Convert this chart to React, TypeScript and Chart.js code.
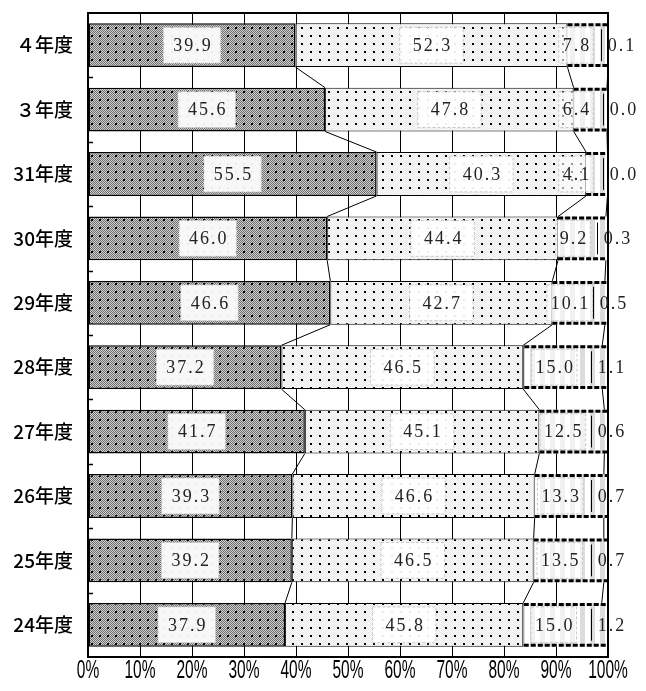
import React, { useEffect, useRef } from "react";
import { Chart, registerables } from "chart.js";

Chart.register(...registerables);

const categories = ["４年度", "３年度", "31年度", "30年度", "29年度", "28年度", "27年度", "26年度", "25年度", "24年度"];
const seriesA = [39.9, 45.6, 55.5, 46.0, 46.6, 37.2, 41.7, 39.3, 39.2, 37.9];
const seriesB = [52.3, 47.8, 40.3, 44.4, 42.7, 46.5, 45.1, 46.6, 46.5, 45.8];
const seriesE = [0, 0, 0, 0, 0, 0.2, 0, 0, 0, 0.1];
const seriesC = [7.8, 6.4, 4.1, 9.2, 10.1, 15.0, 12.5, 13.3, 13.5, 15.0];
const seriesD = [0.1, 0.0, 0.0, 0.3, 0.5, 1.1, 0.6, 0.7, 0.7, 1.2];
const xTickValues = [0, 10, 20, 30, 40, 50, 60, 70, 80, 90, 100];
const xTickLabels = ["0%", "10%", "20%", "30%", "40%", "50%", "60%", "70%", "80%", "90%", "100%"];

function makePattern(w: number, h: number, draw: (g: CanvasRenderingContext2D) => void) {
  const c = document.createElement("canvas");
  c.width = w;
  c.height = h;
  const g = c.getContext("2d")!;
  draw(g);
  return g.createPattern(c, "repeat")!;
}

export default function App() {
  const ref = useRef<HTMLCanvasElement | null>(null);

  useEffect(() => {
    document.body.style.margin = "0";
    const canvas = ref.current!;

    const patA = makePattern(8, 8, (g) => {
      for (let y = 0; y < 8; y++)
        for (let x = 0; x < 8; x++) {
          g.fillStyle = (x + y) % 2 === 0 ? "#6e6e6e" : "#cfcfcf";
          g.fillRect(x, y, 1, 1);
        }
      g.fillStyle = "#000";
      g.fillRect(3, 3, 2, 2);
    });
    const patB = makePattern(9, 8, (g) => {
      for (let y = 0; y < 8; y++)
        for (let x = 0; x < 9; x++) {
          g.fillStyle = (x + y) % 2 === 0 ? "#e6e6e6" : "#ffffff";
          g.fillRect(x, y, 1, 1);
        }
      g.fillStyle = "#000";
      g.fillRect(4, 3, 2, 2);
    });
    const patC = makePattern(10, 10, (g) => {
      g.fillStyle = "#ffffff";
      g.fillRect(0, 0, 10, 10);
      g.fillStyle = "#dcdcdc";
      g.fillRect(0, 0, 5, 10);
    });

    const labelFont = '"Liberation Serif", "DejaVu Serif", serif';

    const overlay = {
      id: "overlay",
      afterDatasetsDraw(chart: any) {
        const ctx: CanvasRenderingContext2D = chart.ctx;
        const area = chart.chartArea;
        const xs = chart.scales.x;
        const mA = chart.getDatasetMeta(0).data;
        const mB = chart.getDatasetMeta(1).data;
        const mC = chart.getDatasetMeta(3).data;
        const n = categories.length;
        ctx.save();

        // dashed bands on striped segments
        ctx.strokeStyle = "#000";
        ctx.lineWidth = 3;
        ctx.setLineDash([5, 2]);
        for (let i = 0; i < n; i++) {
          const el = mC[i];
          const h = el.height;
          const x0 = Math.min(el.base, el.x);
          const top = el.y - h / 2 + 1.5;
          const bot = el.y + h / 2 - 1.5;
          ctx.beginPath();
          ctx.moveTo(x0, top);
          ctx.lineTo(area.right, top);
          ctx.moveTo(x0, bot);
          ctx.lineTo(area.right, bot);
          ctx.stroke();
        }
        ctx.setLineDash([]);

        // connecting lines
        const cum1 = seriesA.map((v) => v);
        const cum2 = seriesA.map((v, i) => v + seriesB[i]);
        const cum3 = seriesA.map((v, i) => v + seriesB[i] + seriesE[i] + seriesC[i]);
        ctx.lineWidth = 1;
        ctx.strokeStyle = "#000";
        for (const cum of [cum1, cum2, cum3]) {
          for (let i = 0; i < n - 1; i++) {
            const a = mA[i];
            const b = mA[i + 1];
            ctx.beginPath();
            ctx.moveTo(xs.getPixelForValue(Math.min(cum[i], 100)), a.y + a.height / 2);
            ctx.lineTo(xs.getPixelForValue(Math.min(cum[i + 1], 100)), b.y - b.height / 2);
            ctx.stroke();
          }
        }

        // inner tick marks on the y axis
        ctx.lineWidth = 1.5;
        for (let i = 0; i < n - 1; i++) {
          const a = mA[i];
          const b = mA[i + 1];
          const y = Math.round(((a.y + a.height / 2) + (b.y - b.height / 2)) / 2) + 0.5;
          ctx.beginPath();
          ctx.moveTo(area.left, y);
          ctx.lineTo(area.left + 5, y);
          ctx.stroke();
        }

        // frame
        ctx.lineWidth = 2;
        ctx.strokeRect(area.left, area.top, area.right - area.left, area.bottom - area.top);

        // x tick labels (narrow)
        ctx.fillStyle = "#000";
        ctx.font = '25px "Liberation Sans", Arial, sans-serif';
        ctx.textAlign = "center";
        ctx.textBaseline = "top";
        xTickValues.forEach((v, k) => {
          const px = xs.getPixelForValue(v);
          ctx.save();
          ctx.translate(px, area.bottom + 2);
          ctx.scale(0.62, 1);
          ctx.fillText(xTickLabels[k], 0, 0);
          ctx.restore();
        });

        // data labels
        ctx.font = `18px ${labelFont}`;
        (ctx as any).letterSpacing = "2px";
        ctx.textAlign = "center";
        ctx.textBaseline = "middle";
        const drawLabel = (cx: number, cy: number, h: number, text: string, pad: number, alpha: number) => {
          const tw = ctx.measureText(text).width;
          const bw = tw + pad * 2;
          const bh = h - 8;
          ctx.fillStyle = `rgba(255,255,255,${alpha})`;
          ctx.fillRect(cx - bw / 2, cy - bh / 2, bw, bh);
          ctx.strokeStyle = "#c8c8c8";
          ctx.lineWidth = 1;
          ctx.setLineDash([3, 2]);
          ctx.strokeRect(cx - bw / 2, cy - bh / 2, bw, bh);
          ctx.setLineDash([]);
          ctx.fillStyle = "#222";
          ctx.fillText(text, cx + 1, cy + 1);
        };
        for (let i = 0; i < n; i++) {
          const a = mA[i];
          const b = mB[i];
          const c = mC[i];
          drawLabel((a.base + a.x) / 2, a.y, a.height, seriesA[i].toFixed(1), 9, 0.92);
          drawLabel((b.base + b.x) / 2, b.y, b.height, seriesB[i].toFixed(1), 12, 0.92);
          const cc = Math.min((c.base + Math.min(c.x, area.right)) / 2 - 9, area.right - 32);
          drawLabel(cc, c.y, c.height, seriesC[i].toFixed(1), 3, 0.6);
          const dc = area.right + 15 - 20 * Math.min(seriesD[i], 0.6);
          ctx.strokeStyle = "#000";
          ctx.lineWidth = 1;
          ctx.beginPath();
          ctx.moveTo(Math.round(dc - 20) + 0.5, c.y - c.height / 2 + 6);
          ctx.lineTo(Math.round(dc - 20) + 0.5, c.y + c.height / 2 - 6);
          ctx.stroke();
          ctx.fillStyle = "#222";
          ctx.fillText(seriesD[i].toFixed(1), dc + 1, c.y + 1);
        }
        (ctx as any).letterSpacing = "0px";
        ctx.restore();
      },
    };

    const chart = new Chart(canvas, {
      type: "bar",
      data: {
        labels: categories,
        datasets: [
          { label: "A", data: seriesA, backgroundColor: patA, borderColor: "#000", borderWidth: 1.5, borderSkipped: false },
          { label: "B", data: seriesB, backgroundColor: patB, borderColor: "#000", borderWidth: 1, borderSkipped: false },
          {
            label: "E",
            data: seriesE,
            backgroundColor: "#7a7a7a",
            borderColor: "#000",
            borderWidth: (c: any) => (seriesE[c.dataIndex] > 0 ? 1.5 : 0),
            borderSkipped: false,
          },
          { label: "C", data: seriesC, backgroundColor: patC, borderColor: "#000", borderWidth: 0, borderSkipped: false },
          { label: "D", data: seriesD, backgroundColor: patC, borderColor: "#000", borderWidth: 0, borderSkipped: false },
        ],
      },
      options: {
        indexAxis: "y",
        responsive: false,
        animation: false,
        events: [],
        layout: { padding: { top: 13, right: 38, left: 0, bottom: 0 } },
        datasets: { bar: { categoryPercentage: 0.68, barPercentage: 1 } },
        plugins: { legend: { display: false }, tooltip: { enabled: false } },
        scales: {
          x: {
            stacked: true,
            min: 0,
            max: 100,
            ticks: {
              display: false,
              stepSize: 10,
              autoSkip: false,
              maxRotation: 0,
              minRotation: 0,
            },
            grid: { color: "#000", lineWidth: 1, drawTicks: false },
            border: { display: false },
            afterFit: (s: any) => {
              s.height = 34;
              s.paddingLeft = 0;
              s.paddingRight = 0;
            },
          },
          y: {
            stacked: true,
            ticks: {
              padding: 15,
              color: "#000",
              font: { size: 19, weight: 500, family: '"Noto Sans CJK JP", "Noto Sans", sans-serif' },
            },
            grid: { display: false, drawTicks: false },
            border: { display: false },
            afterFit: (s: any) => {
              s.width = 88;
              s.paddingTop = 0;
              s.paddingBottom = 0;
            },
          },
        },
      } as any,
      plugins: [overlay],
    });
    return () => chart.destroy();
  }, []);

  return <canvas ref={ref} width={646} height={691} style={{ display: "block" }} />;
}
